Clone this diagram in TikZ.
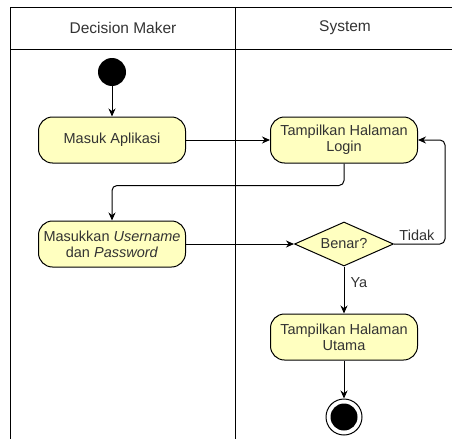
\documentclass[tikz,border=0pt]{standalone}
\usepackage{fontspec}
\setmainfont{Liberation Sans}
\usepackage{xcolor}
\usepackage{tikz}
\usetikzlibrary{positioning,arrows.meta,shapes}

\definecolor{actfill}{HTML}{FFFFC0}
\definecolor{txtgray}{HTML}{333333}

\begin{document}
\begin{tikzpicture}[
      x=1pt, y=-1pt,
      every node/.style={text=txtgray, font=\fontsize{14.5}{16}\selectfont},
      act/.style={draw, fill=actfill, rounded corners=14pt, line width=1pt, minimum height=46pt, minimum width=147pt, inner sep=2pt, align=center},
      dec/.style={draw, fill=actfill, diamond, aspect=2.2, inner sep=0pt, line width=1pt, minimum width=99pt, minimum height=44pt},
      arr/.style={line width=1pt, -{Stealth[length=8pt, width=7pt]}},
      lane/.style={line width=0.8pt},
      head/.style={font=\fontsize{15.5}{18}\selectfont},
    ]
    \useasboundingbox (0,0) rectangle (452,439);
    % swimlanes
    \draw[lane] (10,7) -- (452,7);
    \draw[lane] (10,49) -- (452,49);
    \draw[lane] (10,7) -- (10,439);
    \draw[lane] (235,7) -- (235,439);
    \node[head] (dm) at (123,28) {Decision Maker};
    \node[head] (sys) at (345,28) {System};
    % activities
    \node[circle, fill=black, minimum size=28pt, inner sep=0pt] (start) at (112,72) {};
    \node[act] (masuk) at (112,140) {Masuk Aplikasi};
    \node[act, right=84pt of masuk] (login) {Tampilkan Halaman\\Login};
    \node[act, below=57pt of masuk] (input) {Masukkan \textit{Username}\\dan \textit{Password}};
    \node[dec, right=108pt of input] (benar) {Benar?};
    \node[act, below=47pt of benar] (utama) {Tampilkan Halaman\\Utama};
    \node[circle, draw, line width=1pt, fill=white, minimum size=36pt, inner sep=0pt, below=38pt of utama] (end) {};
    \node[circle, fill=black, minimum size=27pt, inner sep=0pt] (endin) at (end) {};
    % flows
    \draw[arr] (start) -- (masuk);
    \draw[arr] (masuk) -- (login);
    \draw[arr, rounded corners=5pt] (login.south) |- ([yshift=35pt]input.north) -- (input.north);
    \draw[arr] (input) -- (benar);
    \draw[arr, rounded corners=5pt] (benar.east) -- node[above, pos=0.45, inner sep=3pt] (tidak) {Tidak} ++(51pt,0) |- (login.east);
    \draw[arr] (benar.south) -- node[right, pos=0.34, inner sep=6pt] (ya) {Ya} (utama.north);
    \draw[arr] (utama) -- (end);
  \end{tikzpicture}
\end{document}
